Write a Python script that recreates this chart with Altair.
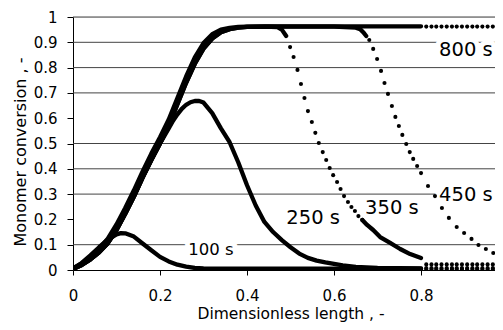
import altair as alt
import pandas as pd

# ---------------- data ----------------
series_names = ["100 s", "250 s", "350 s", "450 s", "800 s"]

# common rising front (two edges of the thick band)
rise_x = [0.00, 0.02, 0.04, 0.06, 0.08, 0.10, 0.12, 0.14, 0.16, 0.18, 0.20,
          0.22, 0.24, 0.26, 0.28, 0.30, 0.32, 0.34, 0.36, 0.38, 0.40]
rise_low_y = [0.004, 0.02, 0.042, 0.07, 0.106, 0.158, 0.222, 0.29, 0.365, 0.435, 0.50,
              0.57, 0.655, 0.74, 0.815, 0.875, 0.915, 0.94, 0.952, 0.958, 0.961]
rise_high_y = [0.007, 0.026, 0.052, 0.084, 0.124, 0.18, 0.245, 0.315, 0.39, 0.46, 0.525,
               0.595, 0.68, 0.765, 0.84, 0.897, 0.932, 0.95, 0.957, 0.961, 0.962]

# 100 s (solid part)
s100_x = [0.00, 0.02, 0.04, 0.06, 0.08, 0.10, 0.11, 0.12, 0.14, 0.16, 0.18, 0.20,
          0.22, 0.24, 0.26, 0.28, 0.30, 0.35, 0.80]
s100_y = [0.005, 0.028, 0.058, 0.09, 0.12, 0.141, 0.146, 0.145, 0.132, 0.105, 0.078, 0.052,
          0.034, 0.021, 0.013, 0.008, 0.006, 0.005, 0.005]

# 250 s (solid part)
s250_x = [0.00, 0.02, 0.04, 0.06, 0.08, 0.10, 0.12, 0.14, 0.16, 0.18, 0.20, 0.22,
          0.23, 0.24, 0.25, 0.26, 0.27, 0.28, 0.29, 0.30, 0.32, 0.34, 0.36, 0.38,
          0.40, 0.42, 0.44, 0.46, 0.48, 0.50, 0.52, 0.54, 0.56, 0.58, 0.60, 0.62,
          0.65, 0.70, 0.80]
s250_y = [0.004, 0.02, 0.042, 0.07, 0.106, 0.158, 0.222, 0.29, 0.365, 0.435, 0.50, 0.56,
          0.59, 0.615, 0.637, 0.653, 0.663, 0.668, 0.668, 0.662, 0.62, 0.56, 0.505, 0.425,
          0.335, 0.255, 0.19, 0.15, 0.118, 0.09, 0.065, 0.048, 0.037, 0.03, 0.024, 0.018,
          0.012, 0.008, 0.006]

# 350 s
s350_head_x = [0.44, 0.47, 0.48, 0.49]
s350_head_y = [0.962, 0.96, 0.95, 0.925]
s350_dot_x = [0.499, 0.507, 0.516, 0.524, 0.532, 0.540, 0.549, 0.557, 0.565, 0.574, 0.582,
              0.590, 0.598, 0.607, 0.615, 0.623, 0.632, 0.640, 0.648, 0.656, 0.665]
s350_dot_y = [0.881, 0.842, 0.791, 0.735, 0.680, 0.628, 0.585, 0.542, 0.502, 0.466, 0.435,
              0.403, 0.375, 0.348, 0.320, 0.292, 0.269, 0.249, 0.233, 0.213, 0.198]
s350_low_x = [0.665, 0.676, 0.690, 0.706, 0.729, 0.752, 0.775, 0.80]
s350_low_y = [0.198, 0.178, 0.158, 0.130, 0.107, 0.083, 0.063, 0.047]

# 450 s
s450_head_x = [0.45, 0.50, 0.55, 0.60, 0.65, 0.66, 0.667, 0.674]
s450_head_y = [0.962, 0.962, 0.962, 0.962, 0.958, 0.952, 0.94, 0.925]
s450_dot_x = [0.681, 0.690, 0.699, 0.708, 0.716, 0.724, 0.733, 0.741, 0.749, 0.757, 0.766,
              0.774, 0.782, 0.791, 0.800, 0.816, 0.832, 0.848, 0.864, 0.882, 0.899, 0.916,
              0.932, 0.949, 0.966, 0.983]
s450_dot_y = [0.909, 0.874, 0.834, 0.787, 0.739, 0.696, 0.648, 0.605, 0.569, 0.534, 0.498,
              0.466, 0.439, 0.411, 0.383, 0.332, 0.292, 0.245, 0.206, 0.170, 0.146, 0.123,
              0.099, 0.083, 0.067, 0.055]

# 800 s plateau
s800_head_x = [0.45, 0.50, 0.60, 0.70, 0.80]
s800_head_y = [0.963, 0.963, 0.963, 0.963, 0.963]

# coarse grid after 0.8 (dotted tails)
tail_x = [0.812, 0.824, 0.835, 0.847, 0.859, 0.871, 0.882, 0.894, 0.906, 0.918,
          0.929, 0.941, 0.953, 0.965, 0.976, 0.988, 1.0]
tail_100_y = [0.004] * 17
tail_250_y = [0.008] * 17
tail_350_y = [0.022] * 17
tail_800_y = [0.962] * 17

# labels
label_text = ["100 s", "250 s", "350 s", "450 s", "800 s"]
label_x = [0.317, 0.552, 0.733, 0.903, 0.903]
label_y = [0.079, 0.205, 0.245, 0.296, 0.870]
label_size = [16.5, 19.5, 19.5, 19.5, 19.5]

grid_y = [0.1, 0.3, 0.4, 0.5, 0.7, 0.8, 0.9, 1.0]
y_ticks = [0, 0.1, 0.2, 0.3, 0.4, 0.5, 0.6, 0.7, 0.8, 0.9, 1.0]
x_ticks = [0, 0.2, 0.4, 0.6, 0.8]


# ---------------- tables ----------------
def part(name, seg, xs, ys):
    return pd.DataFrame({"series": name, "seg": seg, "x": xs, "y": ys})


line_df = pd.concat([
    part("100 s", "100a", s100_x, s100_y),
    part("250 s", "250a", s250_x, s250_y),
    part("350 s", "350a", rise_x + s350_head_x, rise_low_y + s350_head_y),
    part("350 s", "350b", s350_low_x, s350_low_y),
    part("450 s", "450a", rise_x + s450_head_x, rise_low_y + s450_head_y),
    part("800 s", "800a", rise_x + s800_head_x, rise_high_y + s800_head_y),
], ignore_index=True)

dot_df = pd.concat([
    part("350 s", "350d", s350_dot_x, s350_dot_y),
    part("450 s", "450d", s450_dot_x, s450_dot_y),
    part("100 s", "100t", tail_x, tail_100_y),
    part("250 s", "250t", tail_x, tail_250_y),
    part("350 s", "350t", tail_x, tail_350_y),
    part("800 s", "800t", tail_x, tail_800_y),
], ignore_index=True)

label_df = pd.DataFrame({"t": label_text, "x": label_x, "y": label_y, "fs": label_size})
grid_df = pd.DataFrame({"y": grid_y})

FONT = "DejaVu Sans"
xscale = alt.Scale(domain=[0, 0.97], nice=False, zero=False)
yscale = alt.Scale(domain=[0, 1], nice=False, zero=False)

xaxis = alt.Axis(values=x_ticks, format=".1~f", title="Dimensionless length , -",
                 grid=False, tickSize=5, tickColor="black", domainColor="black",
                 labelFont=FONT, labelFontSize=15, labelColor="black", labelPadding=13,
                 labelFlush=False, labelOverlap=False,
                 titleFont=FONT, titleFontSize=15.5, titleFontWeight="normal",
                 titleColor="black", titleX=217.5, titleY=48, titleBaseline="alphabetic")
yaxis = alt.Axis(values=y_ticks, format=".1~f", title="Monomer conversion , -",
                 grid=False, tickSize=6, tickColor="black", domainColor="black",
                 labelFont=FONT, labelFontSize=15, labelColor="black", labelPadding=10,
                 labelFlush=False, labelOverlap=False,
                 titleFont=FONT, titleFontSize=16, titleFontWeight="normal",
                 titleColor="black", titleX=-48, titleY=134.5, titleAngle=270,
                 titleAlign="center", titleBaseline="alphabetic")

X = alt.X("x:Q", scale=xscale, axis=xaxis)
Y = alt.Y("y:Q", scale=yscale, axis=yaxis)

grid = alt.Chart(grid_df).mark_rule(color="#444444", strokeWidth=1).encode(y=Y)

halo = alt.Chart(label_df).mark_text(
    font=FONT, fill="white", stroke="white", strokeWidth=10, strokeJoin="round",
    align="center", baseline="middle"
).encode(
    x=X, y=Y, text="t:N",
    size=alt.Size("fs:Q", scale=None, legend=None),
)

lines = alt.Chart(line_df).mark_line(
    color="black", strokeWidth=4.3, strokeCap="round", strokeJoin="round", clip=True
).encode(x=X, y=Y, detail="seg:N", order="x:Q")

dots = alt.Chart(dot_df).mark_circle(color="black", size=17, opacity=1, clip=True).encode(
    x=X, y=Y, detail="seg:N"
)

labels = alt.Chart(label_df).mark_text(
    font=FONT, color="black", align="center", baseline="middle"
).encode(
    x=X, y=Y, text="t:N",
    size=alt.Size("fs:Q", scale=None, legend=None),
)

chart = alt.layer(grid, halo, lines, dots, labels).properties(
    width=422, height=253,
    autosize=alt.AutoSizeParams(type="none"),
    padding={"left": 65, "top": 9, "right": 0, "bottom": 52},
).configure_view(strokeWidth=0).configure_axis(labelOverlap=False).configure(background="white")

chart.save("out.html", embed_options={"renderer": "svg", "actions": False})
